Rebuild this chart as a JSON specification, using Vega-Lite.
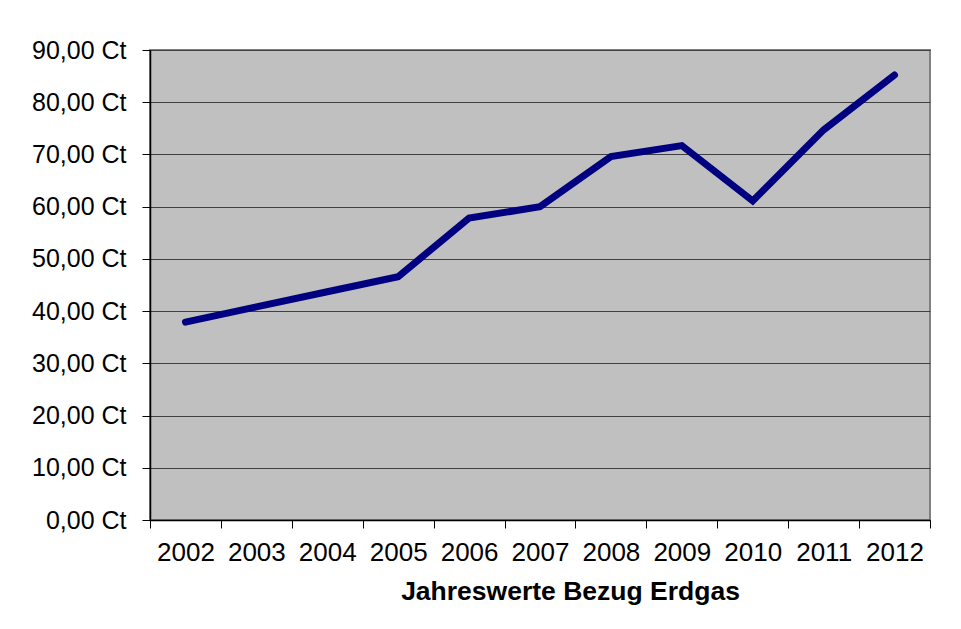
{
  "$schema": "https://vega.github.io/schema/vega-lite/v6.json",
  "width": 780,
  "height": 470,
  "autosize": {"type": "none"},
  "padding": {"left": 150, "top": 50, "right": 31, "bottom": 109},
  "background": "white",
  "config": {
    "font": "Liberation Sans",
    "view": {"fill": "#C0C0C0", "stroke": "#808080", "strokeWidth": 2}
  },
  "data": {
    "values": [
      {"Jahr": "2002", "Preis": 37.9},
      {"Jahr": "2003", "Preis": 40.8},
      {"Jahr": "2004", "Preis": 43.7},
      {"Jahr": "2005", "Preis": 46.6},
      {"Jahr": "2006", "Preis": 57.8},
      {"Jahr": "2007", "Preis": 60.0},
      {"Jahr": "2008", "Preis": 69.6},
      {"Jahr": "2009", "Preis": 71.7},
      {"Jahr": "2010", "Preis": 61.1},
      {"Jahr": "2011", "Preis": 74.7},
      {"Jahr": "2012", "Preis": 85.2}
    ]
  },
  "mark": {"type": "line", "color": "#000080", "strokeWidth": 7, "strokeCap": "round", "strokeJoin": "miter"},
  "encoding": {
    "x": {
      "field": "Jahr",
      "type": "ordinal",
      "scale": {"type": "band", "paddingInner": 0, "paddingOuter": 0},
      "axis": {
        "title": "Jahreswerte Bezug Erdgas",
        "titleFontSize": 26.5,
        "titleFontWeight": "bold",
        "titleColor": "black",
        "titlePadding": 13,
        "titleX": 420,
        "labelAngle": 0,
        "labelFontSize": 26,
        "labelColor": "black",
        "labelPadding": 11,
        "tickBand": "extent",
        "tickSize": 8,
        "tickColor": "black",
        "domainColor": "black",
        "domainWidth": 1.5,
        "grid": false
      }
    },
    "y": {
      "field": "Preis",
      "type": "quantitative",
      "scale": {"domain": [0, 90], "nice": false},
      "axis": {
        "title": null,
        "values": [0, 10, 20, 30, 40, 50, 60, 70, 80, 90],
        "labelExpr": "replace(format(datum.value, '.2f'), '.', ',') + ' Ct'",
        "labelFontSize": 25,
        "labelColor": "black",
        "labelPadding": 16,
        "tickSize": 8,
        "tickColor": "black",
        "domainColor": "black",
        "domainWidth": 1.5,
        "grid": true,
        "gridColor": "#404040",
        "gridWidth": 1
      }
    }
  }
}
